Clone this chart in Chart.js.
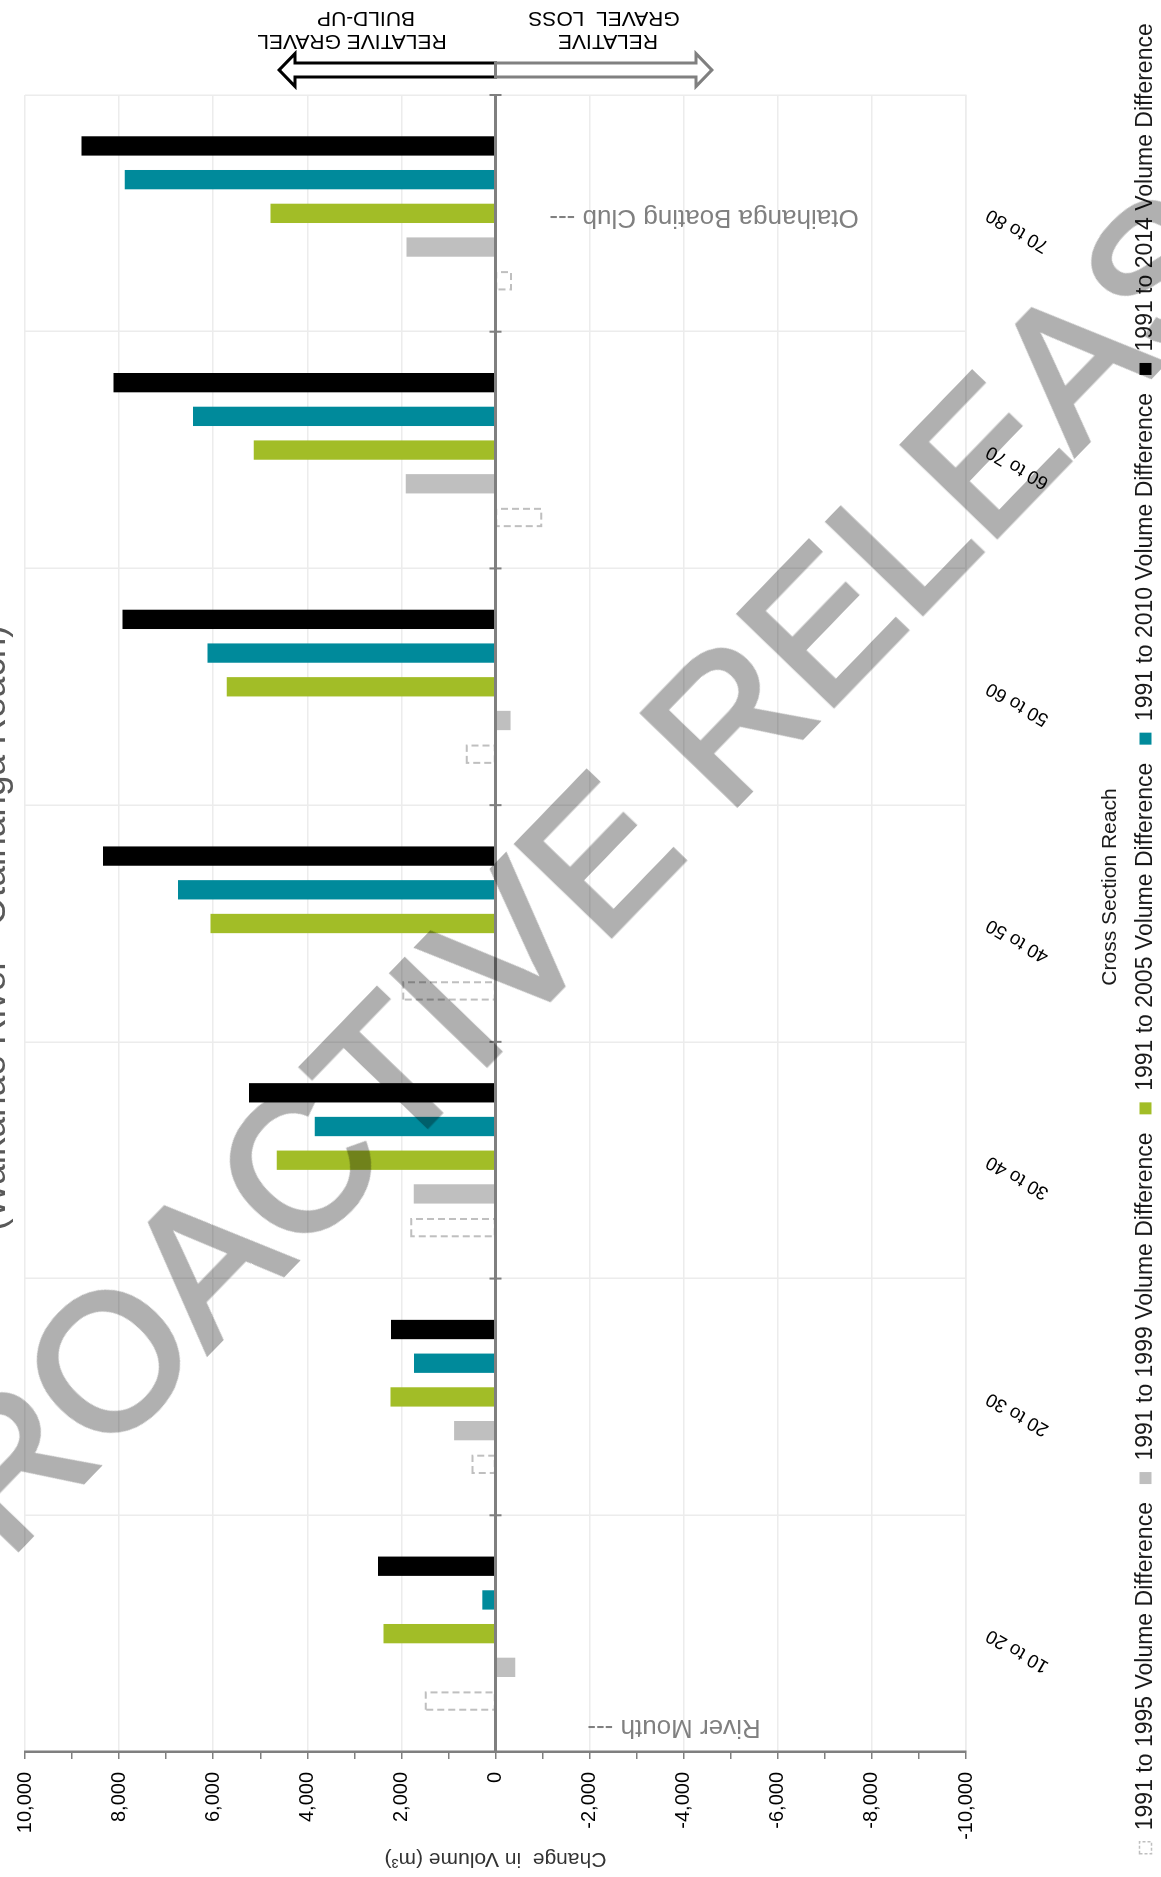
<!DOCTYPE html>
<html><head><meta charset="utf-8">
<script src="https://cdn.jsdelivr.net/npm/chart.js@4.4.1/dist/chart.umd.min.js"></script>
<style>
html,body{margin:0;padding:0;background:#fff;width:1161px;height:1877px;overflow:hidden;}
#wrap{position:absolute;left:0;top:0;width:1877px;height:1167px;transform-origin:0 0;transform:translate(0px,1877px) rotate(-90deg);}
#wm{position:absolute;left:583px;top:870px;transform:translate(-50%,-50%) rotate(-46deg);font-family:'Liberation Sans',Arial,sans-serif;font-size:192px;line-height:1;color:#000;-webkit-text-stroke:5px #000;opacity:0.31;white-space:nowrap;pointer-events:none;}
</style></head><body>
<div id="wrap"><canvas id="c" width="1877" height="1167"></canvas></div>
<div id="wm">PROACTIVE RELEASE</div>
<script>
const categories = ['10 to 20','20 to 30','30 to 40','40 to 50','50 to 60','60 to 70','70 to 80'];
const seriesNames = ['1991 to 1995 Volume Difference','1991 to 1999 Volume Difference','1991 to 2005 Volume Difference','1991 to 2010 Volume Difference','1991 to 2014 Volume Difference'];
const v1995 = [1480, 490, 1790, 1960, 610, -970, -330];
const v1999 = [-420, 880, 1740, 0, -320, 1910, 1890];
const v2005 = [2380, 2230, 4650, 6060, 5710, 5140, 4780];
const v2010 = [280, 1730, 3840, 6750, 6120, 6430, 7880];
const v2014 = [2500, 2220, 5240, 8340, 7930, 8120, 8800];
const valueTicks = [-10000,-8000,-6000,-4000,-2000,0,2000,4000,6000,8000,10000];

const FONT = "'Liberation Sans', Arial, sans-serif";
Chart.defaults.font.family = FONT;
const CANVAS_H = 1167, PLOT_BOTTOM = 966;

function vtext(ctx, s, cx, cy, font, color) {
  ctx.save(); ctx.translate(cx, cy); ctx.rotate(-Math.PI/2);
  ctx.font = font; ctx.fillStyle = color; ctx.textAlign = 'center'; ctx.textBaseline = 'middle';
  ctx.fillText(s, 0, 0); ctx.restore();
}
function arrow(ctx, cx, yBase, yTip, color) {
  const dir = yTip < yBase ? -1 : 1;
  const headBase = yTip - dir * 16;
  ctx.save();
  ctx.beginPath();
  ctx.moveTo(cx - 7, yBase); ctx.lineTo(cx - 7, headBase); ctx.lineTo(cx - 16.5, headBase);
  ctx.lineTo(cx, yTip); ctx.lineTo(cx + 16.5, headBase); ctx.lineTo(cx + 7, headBase);
  ctx.lineTo(cx + 7, yBase); ctx.closePath();
  ctx.fillStyle = '#fff'; ctx.fill();
  ctx.lineWidth = 3; ctx.strokeStyle = color; ctx.lineJoin = 'miter'; ctx.stroke();
  ctx.restore();
}

const extras = {
  id: 'extras',
  afterDatasetsDraw(chart) {
    const {ctx, scales: {x, y}} = chart;
    const meta = chart.getDatasetMeta(0);
    ctx.save();
    ctx.strokeStyle = '#bfbfbf'; ctx.lineWidth = 2; ctx.setLineDash([7, 4]);
    meta.data.forEach(el => {
      const p = el.getProps(['x', 'y', 'base', 'width'], true);
      const t = Math.min(p.y, p.base), h = Math.abs(p.base - p.y);
      ctx.strokeRect(p.x - p.width/2 + 1, t, p.width - 2, h);
    });
    ctx.restore();
    const y0 = y.getPixelForValue(0);
    ctx.save();
    ctx.strokeStyle = '#7f7f7f'; ctx.lineWidth = 3;
    ctx.beginPath(); ctx.moveTo(x.left, y0); ctx.lineTo(x.right, y0); ctx.stroke();
    ctx.lineWidth = 2;
    for (let i = 0; i <= categories.length; i++) {
      const px = x.getPixelForValue(i - 0.5);
      ctx.beginPath(); ctx.moveTo(px, y0 - 6); ctx.lineTo(px, y0 + 6); ctx.stroke();
    }
    ctx.restore();
  },
  afterDraw(chart) {
    const {ctx, scales: {x, y}} = chart;
    ctx.save();
    ctx.font = '37px ' + FONT; ctx.fillStyle = '#595959'; ctx.textAlign = 'center'; ctx.textBaseline = 'alphabetic';
    ctx.fillText('(Waikanae River - Otaihanga Reach)', 949, 5);
    ctx.font = '21px ' + FONT; ctx.fillStyle = '#1a1a1a'; ctx.textBaseline = 'middle';
    ctx.fillText('Cross Section Reach', 990, 1110);
    ctx.restore();
    const ax = x.right + 25;
    const y0 = y.getPixelForValue(0);
    arrow(ctx, ax, y0, y.getPixelForValue(4600), '#000');
    arrow(ctx, ax, y0, y.getPixelForValue(-4600), '#808080');
    const f = '21px ' + FONT;
    vtext(ctx, 'RELATIVE GRAVEL', x.right + 54, 352, f, '#000');
    vtext(ctx, 'BUILD-UP', x.right + 77, 366, f, '#000');
    vtext(ctx, 'RELATIVE', x.right + 54, 608, f, '#000');
    vtext(ctx, 'GRAVEL  LOSS', x.right + 77, 604, f, '#000');
    vtext(ctx, 'Otaihanga Boating Club ---', x.getPixelForValue(6) - 4, 704, '26px ' + FONT, '#808080');
    vtext(ctx, 'River Mouth ---', x.left + 25, 674, '26px ' + FONT, '#808080');
  }
};

const fmt = v => v.toLocaleString('en-US');

new Chart(document.getElementById('c'), {
  type: 'bar',
  data: {
    labels: categories,
    datasets: [
      {label: seriesNames[0], data: v1995, backgroundColor: 'rgba(0,0,0,0)', borderWidth: 0},
      {label: seriesNames[1], data: v1999, backgroundColor: '#bfbfbf', borderWidth: 0},
      {label: seriesNames[2], data: v2005, backgroundColor: '#a2bd27', borderWidth: 0},
      {label: seriesNames[3], data: v2010, backgroundColor: '#008a9b', borderWidth: 0},
      {label: seriesNames[4], data: v2014, backgroundColor: '#000000', borderWidth: 0}
    ]
  },
  options: {
    responsive: false, animation: false, devicePixelRatio: 1,
    categoryPercentage: 0.712, barPercentage: 0.573,
    layout: {padding: {left: 0, right: 0, top: 16, bottom: 0}},
    plugins: {
      tooltip: {enabled: false},
      legend: {
        position: 'bottom',
        labels: {
          font: {size: 23}, color: '#1a1a1a', boxWidth: 12, boxHeight: 12, padding: 18,
          generateLabels(chart) {
            const items = Chart.defaults.plugins.legend.labels.generateLabels(chart);
            items[0].fillStyle = 'rgba(0,0,0,0)'; items[0].strokeStyle = '#bfbfbf';
            items[0].lineWidth = 1.5; items[0].lineDash = [3, 2];
            return items;
          }
        }
      }
    },
    scales: {
      x: {
        grid: {color: '#ececec', lineWidth: 1.5, offset: true, drawTicks: false},
        border: {color: '#ececec', width: 1.5},
        ticks: {minRotation: 60, maxRotation: 60, font: {size: 19}, color: '#000', padding: 16, autoSkip: false},
        afterFit(s) { s.height = CANVAS_H - PLOT_BOTTOM - (s.chart.legend ? s.chart.legend.height : 0); }
      },
      y: {
        min: -10000, max: 10000,
        afterBuildTicks(s) {
          const t = [];
          for (let v = -10000; v <= 10000; v += 1000) t.push({value: v});
          s.ticks = t;
        },
        ticks: {
          autoSkip: false, font: {size: 20}, color: '#000', padding: 13,
          callback: v => (valueTicks.includes(v) ? fmt(v) : '')
        },
        grid: {
          color: c => (c.tick && c.tick.value % 2000 === 0 ? '#ececec' : 'rgba(0,0,0,0)'),
          lineWidth: 1.5, tickColor: '#7f7f7f', tickLength: 7, tickWidth: 1.5
        },
        border: {color: '#7f7f7f', width: 2.5},
        title: {display: true, text: 'Change  in Volume (m³)', font: {size: 21}, color: '#333', padding: {top: 6, bottom: 0}},
        afterFit(s) { s.width = 125; }
      },
      pad: {
        type: 'linear', position: 'right', display: true,
        grid: {display: false, drawTicks: false}, border: {display: false}, ticks: {display: false},
        afterFit(s) { s.width = 95; }
      }
    }
  },
  plugins: [extras]
});
</script>
</body></html>
